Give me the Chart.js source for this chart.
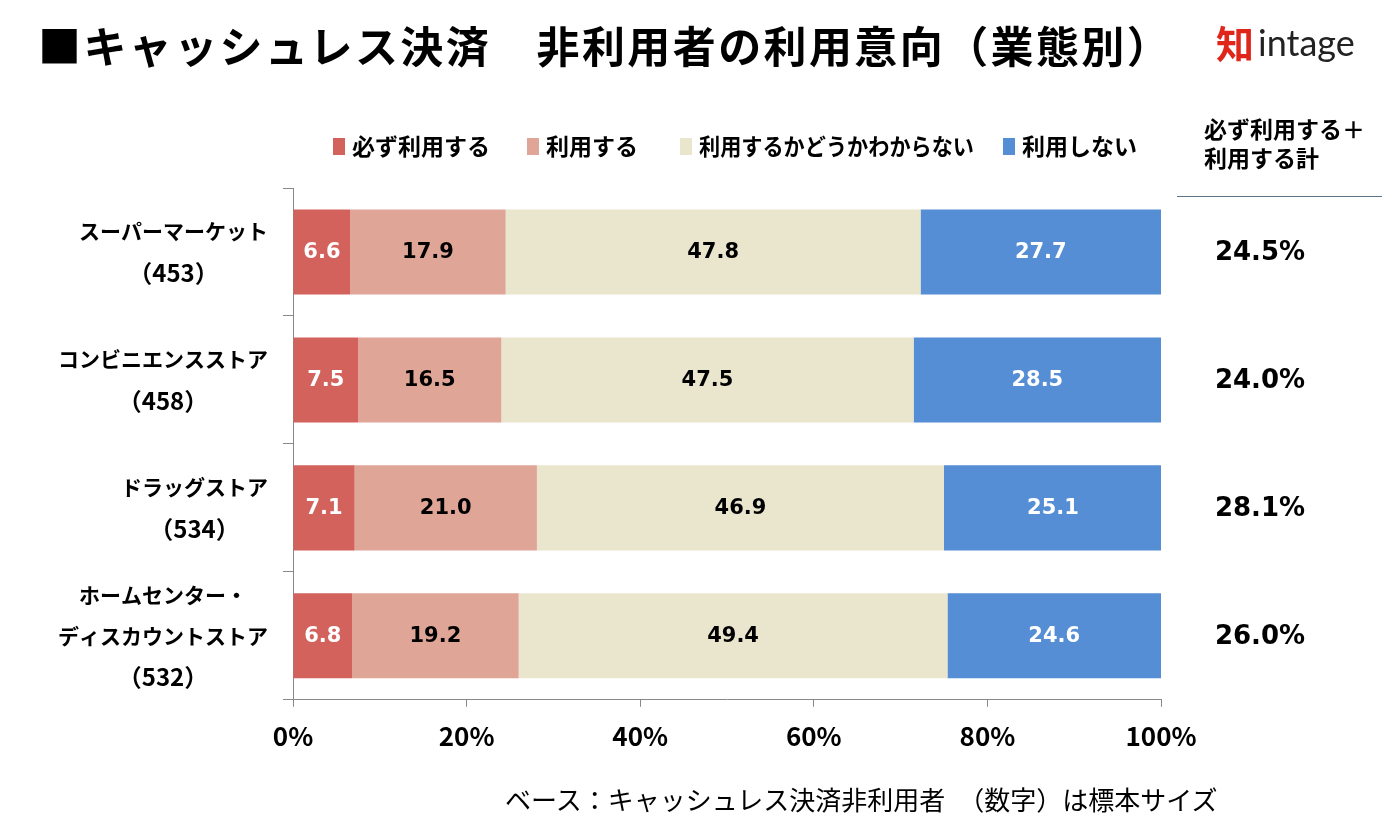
<!DOCTYPE html>
<html lang="ja">
<head>
<meta charset="utf-8">
<script src="https://cdn.jsdelivr.net/npm/chart.js@4.4.0/dist/chart.umd.min.js"></script>
<style>
    html, body { margin: 0; padding: 0; background: #fff; }
    #wrap { position: relative; width: 1393px; height: 836px; overflow: hidden; font-family: "Noto Sans CJK JP", sans-serif; color: #000; }
    #chart { position: absolute; left: 0; top: 0; }
    .title { position: absolute; left: 38px; top: 13px; font-size: 43px; font-weight: bold; white-space: pre; letter-spacing: 2.4px; }
    .logo { position: absolute; left: 1216px; top: 14px; white-space: nowrap; }
    .logo .mark { color: #e0251b; font-size: 38px; font-weight: bold; vertical-align: middle; }
    .logo .word { color: #222; font-family: "Lato", sans-serif; font-size: 36px; vertical-align: middle; margin-left: 4px; }
    .sumHead { position: absolute; left: 1204px; top: 114px; font-size: 23px; font-weight: bold; line-height: 29px; }
    .sumLine { position: absolute; left: 1177px; top: 196px; width: 205px; height: 0; border-top: 1.5px solid #5b7186; }
    .footer { position: absolute; left: 505px; top: 780px; font-size: 26px; white-space: pre; }
</style>
</head>
<body>
<div id="wrap">
    <canvas id="chart" width="1393" height="836"></canvas>
    <div class="title">■キャッシュレス決済　非利用者の利用意向（業態別）</div>
    <div class="logo"><span class="mark">知</span><span class="word">intage</span></div>
    <div class="sumHead">必ず利用する＋<br>利用する計</div>
    <div class="sumLine"></div>
    <div class="footer">ベース：キャッシュレス決済非利用者　（数字）は標本サイズ</div>
</div>
<script>
    // Categories (business type + sample size)
    const categories = [
        ['スーパーマーケット', '（453）'],
        ['コンビニエンスストア', '（458）'],
        ['ドラッグストア', '（534）'],
        ['ホームセンター・', 'ディスカウントストア', '（532）']
    ];

    const seriesNames = ['必ず利用する', '利用する', '利用するかどうかわからない', '利用しない'];
    const seriesColors = ['#d2625b', '#dfa597', '#eae6ce', '#558ed5'];
    const labelColors = ['#fff', '#000', '#000', '#fff'];

    // Series values (%)
    const mustUse = [6.6, 7.5, 7.1, 6.8];
    const willUse = [17.9, 16.5, 21.0, 19.2];
    const unsure = [47.8, 47.5, 46.9, 49.4];
    const wontUse = [27.7, 28.5, 25.1, 24.6];

    const xTicks = [0, 20, 40, 60, 80, 100];

    const seriesValues = [mustUse, willUse, unsure, wontUse];
    const JP = '"Noto Sans CJK JP", sans-serif';

    // Legend drawn on canvas across the top
    const legendX = [333, 527, 680, 1003];
    const legendW = [140, 93, 275, 115];
    const legendPlugin = {
        id: 'topLegend',
        afterDraw(chart) {
            const ctx = chart.ctx;
            ctx.save();
            ctx.font = 'bold 23px ' + JP;
            ctx.textBaseline = 'middle';
            ctx.textAlign = 'left';
            const y = 146;
            chart.data.datasets.forEach((ds, i) => {
                const x = legendX[i];
                ctx.fillStyle = ds.backgroundColor;
                ctx.fillRect(x, y - 8, 12, 17);
                ctx.fillStyle = '#000';
                ctx.fillText(ds.label, x + 19, y, legendW[i]);
            });
            ctx.restore();
        }
    };

    // Category labels: block right-aligned, lines centered
    const catLabelPlugin = {
        id: 'catLabels',
        afterDraw(chart) {
            const ctx = chart.ctx;
            const yScale = chart.scales.y;
            ctx.save();
            ctx.textBaseline = 'middle';
            ctx.textAlign = 'center';
            ctx.fillStyle = '#000';
            categories.forEach((lines, i) => {
                const cy = yScale.getPixelForValue(i);
                const fonts = lines.map((l, k) => 'bold ' + (k === lines.length - 1 ? 24 : 21) + 'px ' + JP);
                const w = Math.max(...lines.map((l, k) => { ctx.font = fonts[k]; return ctx.measureText(l).width; }));
                const cx = 268 - w / 2;
                const step = 41;
                const top = cy - step * (lines.length - 1) / 2;
                lines.forEach((l, k) => {
                    ctx.font = fonts[k];
                    ctx.fillText(l, cx, top + k * step);
                });
            });
            ctx.restore();
        }
    };

    // Value labels inside bars + totals column on the right
    const valueLabelPlugin = {
        id: 'valueLabels',
        afterDatasetsDraw(chart) {
            const ctx = chart.ctx;
            ctx.save();
            ctx.font = 'bold 21px "DejaVu Sans", sans-serif';
            ctx.textAlign = 'center';
            ctx.textBaseline = 'middle';
            chart.data.datasets.forEach((ds, di) => {
                const meta = chart.getDatasetMeta(di);
                meta.data.forEach((bar, i) => {
                    const p = bar.getCenterPoint();
                    ctx.fillStyle = labelColors[di];
                    ctx.fillText(ds.data[i].toFixed(1), p.x, p.y + 1);
                });
            });
            const yScale = chart.scales.y;
            ctx.font = 'bold 26px "DejaVu Sans", sans-serif';
            ctx.fillStyle = '#000';
            mustUse.forEach((v, i) => {
                const total = v + willUse[i];
                ctx.fillText(total.toFixed(1) + '%', 1260, yScale.getPixelForValue(i) + 1);
            });
            ctx.restore();
        }
    };

    const ctx = document.getElementById('chart').getContext('2d');
    new Chart(ctx, {
        type: 'bar',
        data: {
            labels: categories,
            datasets: seriesNames.map((name, i) => ({
                label: name,
                data: seriesValues[i],
                backgroundColor: seriesColors[i],
                borderWidth: 0,
                categoryPercentage: 1,
                barPercentage: 0.665
            }))
        },
        options: {
            indexAxis: 'y',
            responsive: false,
            animation: false,
            layout: {
                padding: { left: 283, right: 232, top: 188, bottom: 70 }
            },
            plugins: {
                legend: { display: false },
                tooltip: { enabled: false }
            },
            scales: {
                x: {
                    stacked: true,
                    min: 0,
                    max: 100,
                    afterBuildTicks: axis => { axis.ticks = xTicks.map(v => ({ value: v })); },
                    ticks: {
                        callback: v => v + '%',
                        color: '#000',
                        padding: 14,
                        maxRotation: 0,
                        font: { family: JP, size: 26, weight: 'bold' }
                    },
                    grid: { drawOnChartArea: false, tickLength: 7, color: '#888' },
                    border: { color: '#888' }
                },
                y: {
                    stacked: true,
                    ticks: { display: false },
                    grid: { offset: true, drawOnChartArea: false, tickLength: 10, color: '#888' },
                    border: { color: '#888' }
                }
            }
        },
        plugins: [legendPlugin, catLabelPlugin, valueLabelPlugin]
    });
</script>
</body>
</html>
